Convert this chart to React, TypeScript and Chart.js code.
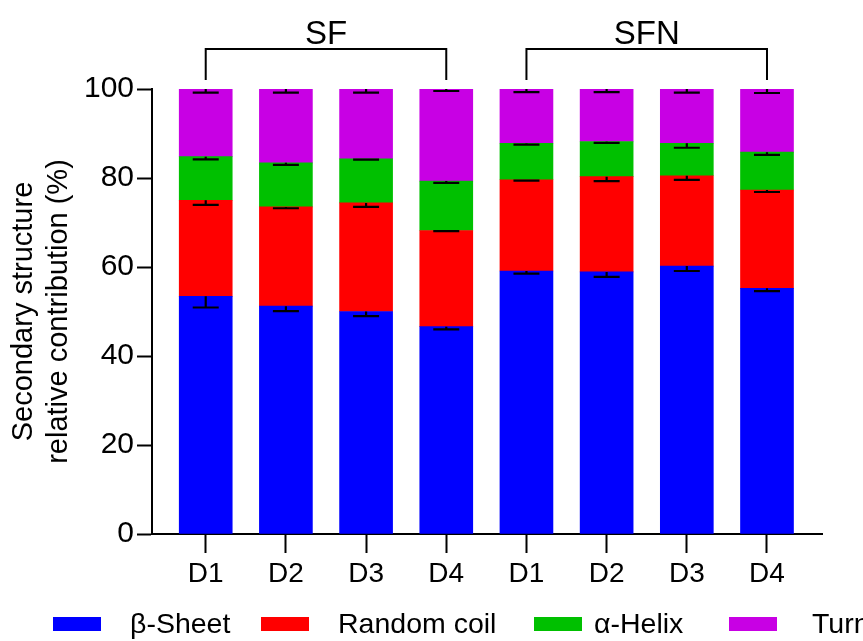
import React, { useEffect, useRef } from 'react';
import { Chart, registerables } from 'chart.js';

Chart.register(...registerables);

const categories = ['D1', 'D2', 'D3', 'D4', 'D1', 'D2', 'D3', 'D4'];
const groupLabels = ['SF', 'SFN'];
const groupStart = [0, 4];
const groupEnd = [3, 7];
const seriesLabels = ['β-Sheet', 'Random coil', 'α-Helix', 'Turn'];
const betaSheet = [53.4, 51.2, 50.0, 46.6, 59.1, 58.9, 60.2, 55.2];
const randomCoil = [21.6, 22.3, 24.4, 21.6, 20.5, 21.4, 20.3, 22.1];
const alphaHelix = [9.8, 9.9, 9.9, 11.1, 8.2, 7.9, 7.3, 8.5];
const turn = [15.2, 16.6, 15.7, 20.7, 12.2, 11.8, 12.2, 14.2];
const betaSheetErr = [2.5, 1.1, 1.05, 0.6, 0.6, 1.1, 1.1, 0.6];
const randomCoilErr = [1.05, 0.3, 0.9, 0.15, 0.2, 1.0, 0.9, 0.45];
const alphaHelixErr = [0.6, 0.45, 0.15, 0.4, 0.3, 0.3, 1.0, 0.6];
const turnErr = [0.8, 0.8, 0.8, 0.45, 0.7, 0.7, 0.8, 0.9];
const yTicks = [0, 20, 40, 60, 80, 100];

const colors = ['#0000FF', '#FF0000', '#00C000', '#C800E4'];
const FONT = '"Liberation Sans", Arial, sans-serif';

const errorBarPlugin = {
  id: 'errorBars',
  afterDatasetsDraw(chart: any) {
    const ctx = chart.ctx;
    const yScale = chart.scales.y;
    const dsets = chart.data.datasets;
    ctx.save();
    ctx.strokeStyle = '#000';
    ctx.lineWidth = 2.2;
    dsets.forEach((ds: any, di: number) => {
      const meta = chart.getDatasetMeta(di);
      meta.data.forEach((bar: any, j: number) => {
        let cum = 0;
        for (let k = 0; k <= di; k++) cum += dsets[k].data[j].y;
        const err = ds.errors[j];
        const yTop = yScale.getPixelForValue(cum);
        const yBot = yScale.getPixelForValue(cum - err);
        ctx.beginPath();
        ctx.moveTo(bar.x, yTop);
        ctx.lineTo(bar.x, yBot);
        ctx.moveTo(bar.x - 13, yBot);
        ctx.lineTo(bar.x + 13, yBot);
        ctx.stroke();
      });
    });
    ctx.restore();
  },
};

const bracketPlugin = {
  id: 'groupBrackets',
  afterDraw(chart: any) {
    const ctx = chart.ctx;
    const xScale = chart.scales.x;
    const top = chart.chartArea.top;
    ctx.save();
    ctx.strokeStyle = '#000';
    ctx.lineWidth = 2;
    ctx.fillStyle = '#000';
    ctx.font = `33px ${FONT}`;
    ctx.textAlign = 'center';
    ctx.textBaseline = 'middle';
    groupLabels.forEach((g, i) => {
      const x1 = xScale.getPixelForValue(groupStart[i]);
      const x2 = xScale.getPixelForValue(groupEnd[i]);
      const yLine = top - 40;
      const yEnd = top - 9;
      ctx.beginPath();
      ctx.moveTo(x1, yEnd);
      ctx.lineTo(x1, yLine);
      ctx.lineTo(x2, yLine);
      ctx.lineTo(x2, yEnd);
      ctx.stroke();
      ctx.fillText(g, (x1 + x2) / 2, top - 54);
    });
    ctx.restore();
  },
};

const legendPlugin = {
  id: 'customLegend',
  afterDraw(chart: any) {
    const ctx = chart.ctx;
    const boxX = [53, 261, 534, 729];
    const textX = [130, 338, 594, 812];
    const yc = 624;
    ctx.save();
    ctx.font = `28.5px ${FONT}`;
    ctx.textAlign = 'left';
    ctx.textBaseline = 'middle';
    chart.data.datasets.forEach((ds: any, i: number) => {
      ctx.fillStyle = ds.backgroundColor;
      ctx.fillRect(boxX[i], yc - 7, 48, 14);
      ctx.fillStyle = '#000';
      ctx.fillText(ds.label, textX[i], yc + 1);
    });
    ctx.restore();
  },
};

export default function App() {
  const canvasRef = useRef<HTMLCanvasElement | null>(null);

  useEffect(() => {
    document.body.style.margin = '0';
    const series = [betaSheet, randomCoil, alphaHelix, turn];
    const errs = [betaSheetErr, randomCoilErr, alphaHelixErr, turnErr];
    const chart = new Chart(canvasRef.current as HTMLCanvasElement, {
      type: 'bar',
      data: {
        datasets: series.map((vals, i) => ({
          label: seriesLabels[i],
          data: vals.map((v, j) => ({ x: j, y: v })),
          backgroundColor: colors[i],
          borderWidth: 0,
          barThickness: 53,
          errors: errs[i],
        })) as any,
      },
      options: {
        animation: false,
        responsive: true,
        maintainAspectRatio: false,
        layout: { padding: { top: 89, right: 41, left: 0, bottom: 0 } },
        plugins: { legend: { display: false }, tooltip: { enabled: false } },
        scales: {
          x: {
            type: 'linear',
            stacked: true,
            offset: false,
            min: -0.67,
            max: 7.686,
            afterBuildTicks: (scale: any) => {
              scale.ticks = categories.map((_, i) => ({ value: i }));
            },
            afterFit: (scale: any) => {
              scale.height = 107;
            },
            ticks: {
              autoSkip: false,
              maxRotation: 0,
              padding: 4,
              color: '#000',
              font: { family: FONT, size: 28 },
              callback: (v: any) => categories[v as number] ?? '',
            },
            grid: {
              offset: false,
              drawOnChartArea: false,
              drawTicks: true,
              tickLength: 19,
              tickWidth: 2,
              tickColor: '#000',
            },
            border: { display: true, color: '#000', width: 2 },
          },
          y: {
            type: 'linear',
            stacked: true,
            min: 0,
            max: 100,
            afterBuildTicks: (scale: any) => {
              scale.ticks = yTicks.map((v) => ({ value: v }));
            },
            afterFit: (scale: any) => {
              scale.width = 152;
            },
            ticks: {
              padding: 3,
              color: '#000',
              font: { family: FONT, size: 30 },
            },
            grid: {
              drawOnChartArea: false,
              drawTicks: true,
              tickLength: 15,
              tickWidth: 2,
              tickColor: '#000',
            },
            border: { display: true, color: '#000', width: 2 },
            title: {
              display: true,
              text: ['Secondary structure', 'relative contribution (%)'],
              color: '#000',
              font: { family: FONT, size: 29 },
              padding: { top: 7, bottom: 0 },
            },
          },
        },
      } as any,
      plugins: [errorBarPlugin, bracketPlugin, legendPlugin],
    });
    return () => chart.destroy();
  }, []);

  return (
    <div style={{ width: 863, height: 641, position: 'relative', background: '#fff' }}>
      <canvas ref={canvasRef} />
    </div>
  );
}
